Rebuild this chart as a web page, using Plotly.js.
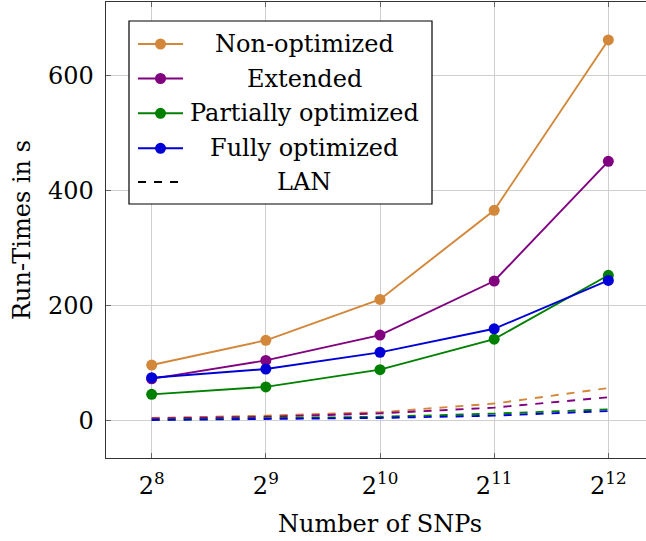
<!DOCTYPE html>
<html>
<head>
<meta charset="utf-8">
<script src="https://cdn.plot.ly/plotly-3.0.1.min.js"></script>
<style>
  html, body { margin: 0; padding: 0; overflow: hidden; background: #fff; }
  #chart { width: 654px; height: 541px; }
</style>
</head>
<body>
<div id="chart"></div>
<script>
// Run-times per number of SNPs (x = log2 of the SNP count)
const exponents = [8, 9, 10, 11, 12];
const tickLabels = ['2<sup>8</sup>', '2<sup>9</sup>', '2<sup>10</sup>', '2<sup>11</sup>', '2<sup>12</sup>'];

const seriesNames = ['Non-optimized', 'Extended', 'Partially optimized', 'Fully optimized'];
const seriesColors = ['#d2873a', '#800080', '#008000', '#0000d6'];

// default network setting (solid lines with markers)
const nonOptimized = [97, 140, 211, 366, 662];
const extended = [73, 105, 149, 243, 451];
const partiallyOptimized = [46, 59, 89, 142, 253];
const fullyOptimized = [75, 90, 119, 160, 244];

// LAN setting (dashed lines)
const nonOptimizedLan = [5, 9, 15, 30, 57];
const extendedLan = [4, 7, 13, 23, 41];
const partiallyOptimizedLan = [2, 4, 7, 12.5, 20];
const fullyOptimizedLan = [1.5, 3, 5, 9, 17];

const solidSeries = [nonOptimized, extended, partiallyOptimized, fullyOptimized];
const lanSeries = [nonOptimizedLan, extendedLan, partiallyOptimizedLan, fullyOptimizedLan];

const FONT = 'DejaVu Serif, serif';
const W = 654, H = 541;
const M = { l: 106, r: 0, t: 2, b: 83 };
const plotW = W - M.l - M.r, plotH = H - M.t - M.b;

const traces = [];
solidSeries.forEach((vals, i) => {
  traces.push({
    x: exponents, y: vals, name: seriesNames[i], type: 'scatter', mode: 'lines+markers',
    line: { color: seriesColors[i], width: 1.9 },
    marker: { color: seriesColors[i], size: 11 },
    showlegend: false, hoverinfo: 'skip'
  });
});
lanSeries.forEach((vals, i) => {
  traces.push({
    x: exponents, y: vals, name: seriesNames[i] + ' (LAN)', type: 'scatter', mode: 'lines',
    line: { color: seriesColors[i], width: 1.9, dash: '8px,8px' },
    showlegend: false, hoverinfo: 'skip'
  });
});

// legend box drawn in pixel positions of the figure
const px = v => (v - M.l) / plotW;
const py = v => (H - M.b - v) / plotH;

const shapes = [{
  type: 'rect', xref: 'paper', yref: 'paper',
  x0: px(129), x1: px(432), y0: py(204), y1: py(21),
  line: { color: '#000', width: 1.2 }, fillcolor: '#fff', layer: 'above'
}];
const annotations = [];
const rowY = [44, 78.5, 113.3, 148.3, 182];
const legendNames = seriesNames.concat(['LAN']);

legendNames.forEach((name, i) => {
  const y = py(rowY[i]);
  if (i < seriesNames.length) {
    shapes.push({
      type: 'line', xref: 'paper', yref: 'paper', layer: 'above',
      x0: px(138), x1: px(183), y0: y, y1: y,
      line: { color: seriesColors[i], width: 1.9 }
    });
    shapes.push({
      type: 'circle', xref: 'paper', yref: 'paper', layer: 'above',
      xsizemode: 'pixel', ysizemode: 'pixel', xanchor: px(160.5), yanchor: y,
      x0: -5.5, x1: 5.5, y0: -5.5, y1: 5.5,
      fillcolor: seriesColors[i], line: { color: seriesColors[i], width: 0 }
    });
  } else {
    shapes.push({
      type: 'line', xref: 'paper', yref: 'paper', layer: 'above',
      x0: px(138), x1: px(179), y0: y, y1: y,
      line: { color: '#000', width: 1.9, dash: '8px,8px' }
    });
  }
  annotations.push({
    xref: 'paper', yref: 'paper', x: px(304), y: y,
    xanchor: 'center', yanchor: 'middle', showarrow: false,
    text: name, font: { family: FONT, size: 24, color: '#000' }
  });
});

const layout = {
  width: W, height: H,
  margin: M,
  paper_bgcolor: '#fff', plot_bgcolor: '#fff',
  font: { family: FONT, size: 24, color: '#000' },
  xaxis: {
    range: [7.6, 12.4],
    tickvals: exponents, ticktext: tickLabels,
    showgrid: true, gridcolor: '#cfcfcf', gridwidth: 1,
    zeroline: false,
    showline: true, linecolor: '#333', linewidth: 1.3, mirror: 'ticks',
    ticks: 'inside', ticklen: 5, tickcolor: '#666', tickwidth: 1,
    ticklabelstandoff: 6,
    tickfont: { family: FONT, size: 24 },
    title: { text: 'Number of SNPs', font: { family: FONT, size: 24 }, standoff: 16 }
  },
  yaxis: {
    range: [-64.6, 728],
    tickvals: [0, 200, 400, 600],
    showgrid: true, gridcolor: '#cfcfcf', gridwidth: 1,
    zeroline: false,
    showline: true, linecolor: '#333', linewidth: 1.3, mirror: 'ticks',
    ticks: 'inside', ticklen: 5, tickcolor: '#666', tickwidth: 1,
    ticklabelstandoff: 6,
    tickfont: { family: FONT, size: 24 },
    title: { text: 'Run-Times in s', font: { family: FONT, size: 24 }, standoff: 10 }
  },
  shapes: shapes,
  annotations: annotations,
  showlegend: false
};

Plotly.newPlot('chart', traces, layout, { displayModeBar: false, staticPlot: true });
</script>
</body>
</html>
